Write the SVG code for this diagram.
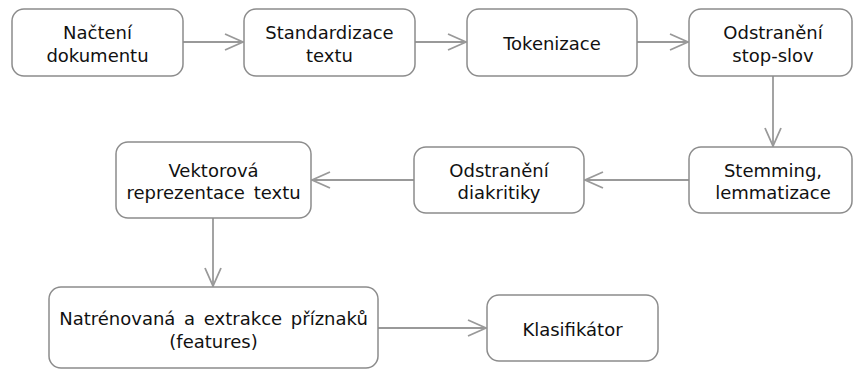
<svg xmlns="http://www.w3.org/2000/svg" width="853" height="369" viewBox="0 0 853 369">
<style>
.box{fill:#fff;stroke:#8c8c8c;stroke-width:1.5}
.t{font-family:"DejaVu Sans",Verdana,sans-serif;font-size:18px;fill:#111;text-anchor:middle}
.c{fill:none;stroke:#999;stroke-width:1.8}
</style>
<defs>
<marker id="a" viewBox="0 0 20 20" refX="19" refY="10" markerWidth="20" markerHeight="20" markerUnits="userSpaceOnUse" orient="auto">
<path d="M1,2 L19,10 L1,18" fill="none" stroke="#999" stroke-width="1.8"/>
</marker>
</defs>
<rect width="853" height="369" fill="#fff"/>
<g id="connectors">
<line class="c" x1="183" y1="42" x2="243" y2="42" marker-end="url(#a)"/>
<line class="c" x1="415" y1="42" x2="466" y2="42" marker-end="url(#a)"/>
<line class="c" x1="637" y1="42" x2="688" y2="42" marker-end="url(#a)"/>
<line class="c" x1="773" y1="76" x2="773" y2="146" marker-end="url(#a)"/>
<line class="c" x1="689" y1="180" x2="585" y2="180" marker-end="url(#a)"/>
<line class="c" x1="414" y1="180" x2="312" y2="180" marker-end="url(#a)"/>
<line class="c" x1="213" y1="218" x2="213" y2="286" marker-end="url(#a)"/>
<line class="c" x1="378" y1="328" x2="486" y2="328" marker-end="url(#a)"/>
</g>
<g id="n1"><rect class="box" x="12" y="9" width="171" height="67" rx="12"/><text class="t" x="97.5" y="38.5">Načtení</text><text class="t" x="97.5" y="62">dokumentu</text></g>
<g id="n2"><rect class="box" x="244" y="9" width="171" height="67" rx="12"/><text class="t" x="329.5" y="38.5">Standardizace</text><text class="t" x="329.5" y="62">textu</text></g>
<g id="n3"><rect class="box" x="467" y="9" width="170" height="67" rx="12"/><text class="t" x="552" y="49.5">Tokenizace</text></g>
<g id="n4"><rect class="box" x="689" y="9" width="163" height="67" rx="12"/><text class="t" x="773" y="38.5">Odstranění</text><text class="t" x="773" y="62">stop-slov</text></g>
<g id="n5"><rect class="box" x="689" y="147" width="163" height="66" rx="12"/><text class="t" x="773" y="176.5">Stemming,</text><text class="t" x="773" y="199">lemmatizace</text></g>
<g id="n6"><rect class="box" x="414" y="147" width="170" height="66" rx="12"/><text class="t" x="499" y="176.5">Odstranění</text><text class="t" x="499" y="199">diakritiky</text></g>
<g id="n7"><rect class="box" x="116" y="142" width="195" height="76" rx="12"/><text class="t" x="213.5" y="176.5">Vektorová</text><text class="t" x="213.5" y="199" word-spacing="3">reprezentace textu</text></g>
<g id="n8"><rect class="box" x="49" y="287" width="329" height="81" rx="12"/><text class="t" x="213.5" y="325" word-spacing="3">Natrénovaná a extrakce příznaků</text><text class="t" x="213.5" y="348">(features)</text></g>
<g id="n9"><rect class="box" x="487" y="295" width="171" height="66" rx="12"/><text class="t" x="572.5" y="336">Klasifikátor</text></g>
</svg>
